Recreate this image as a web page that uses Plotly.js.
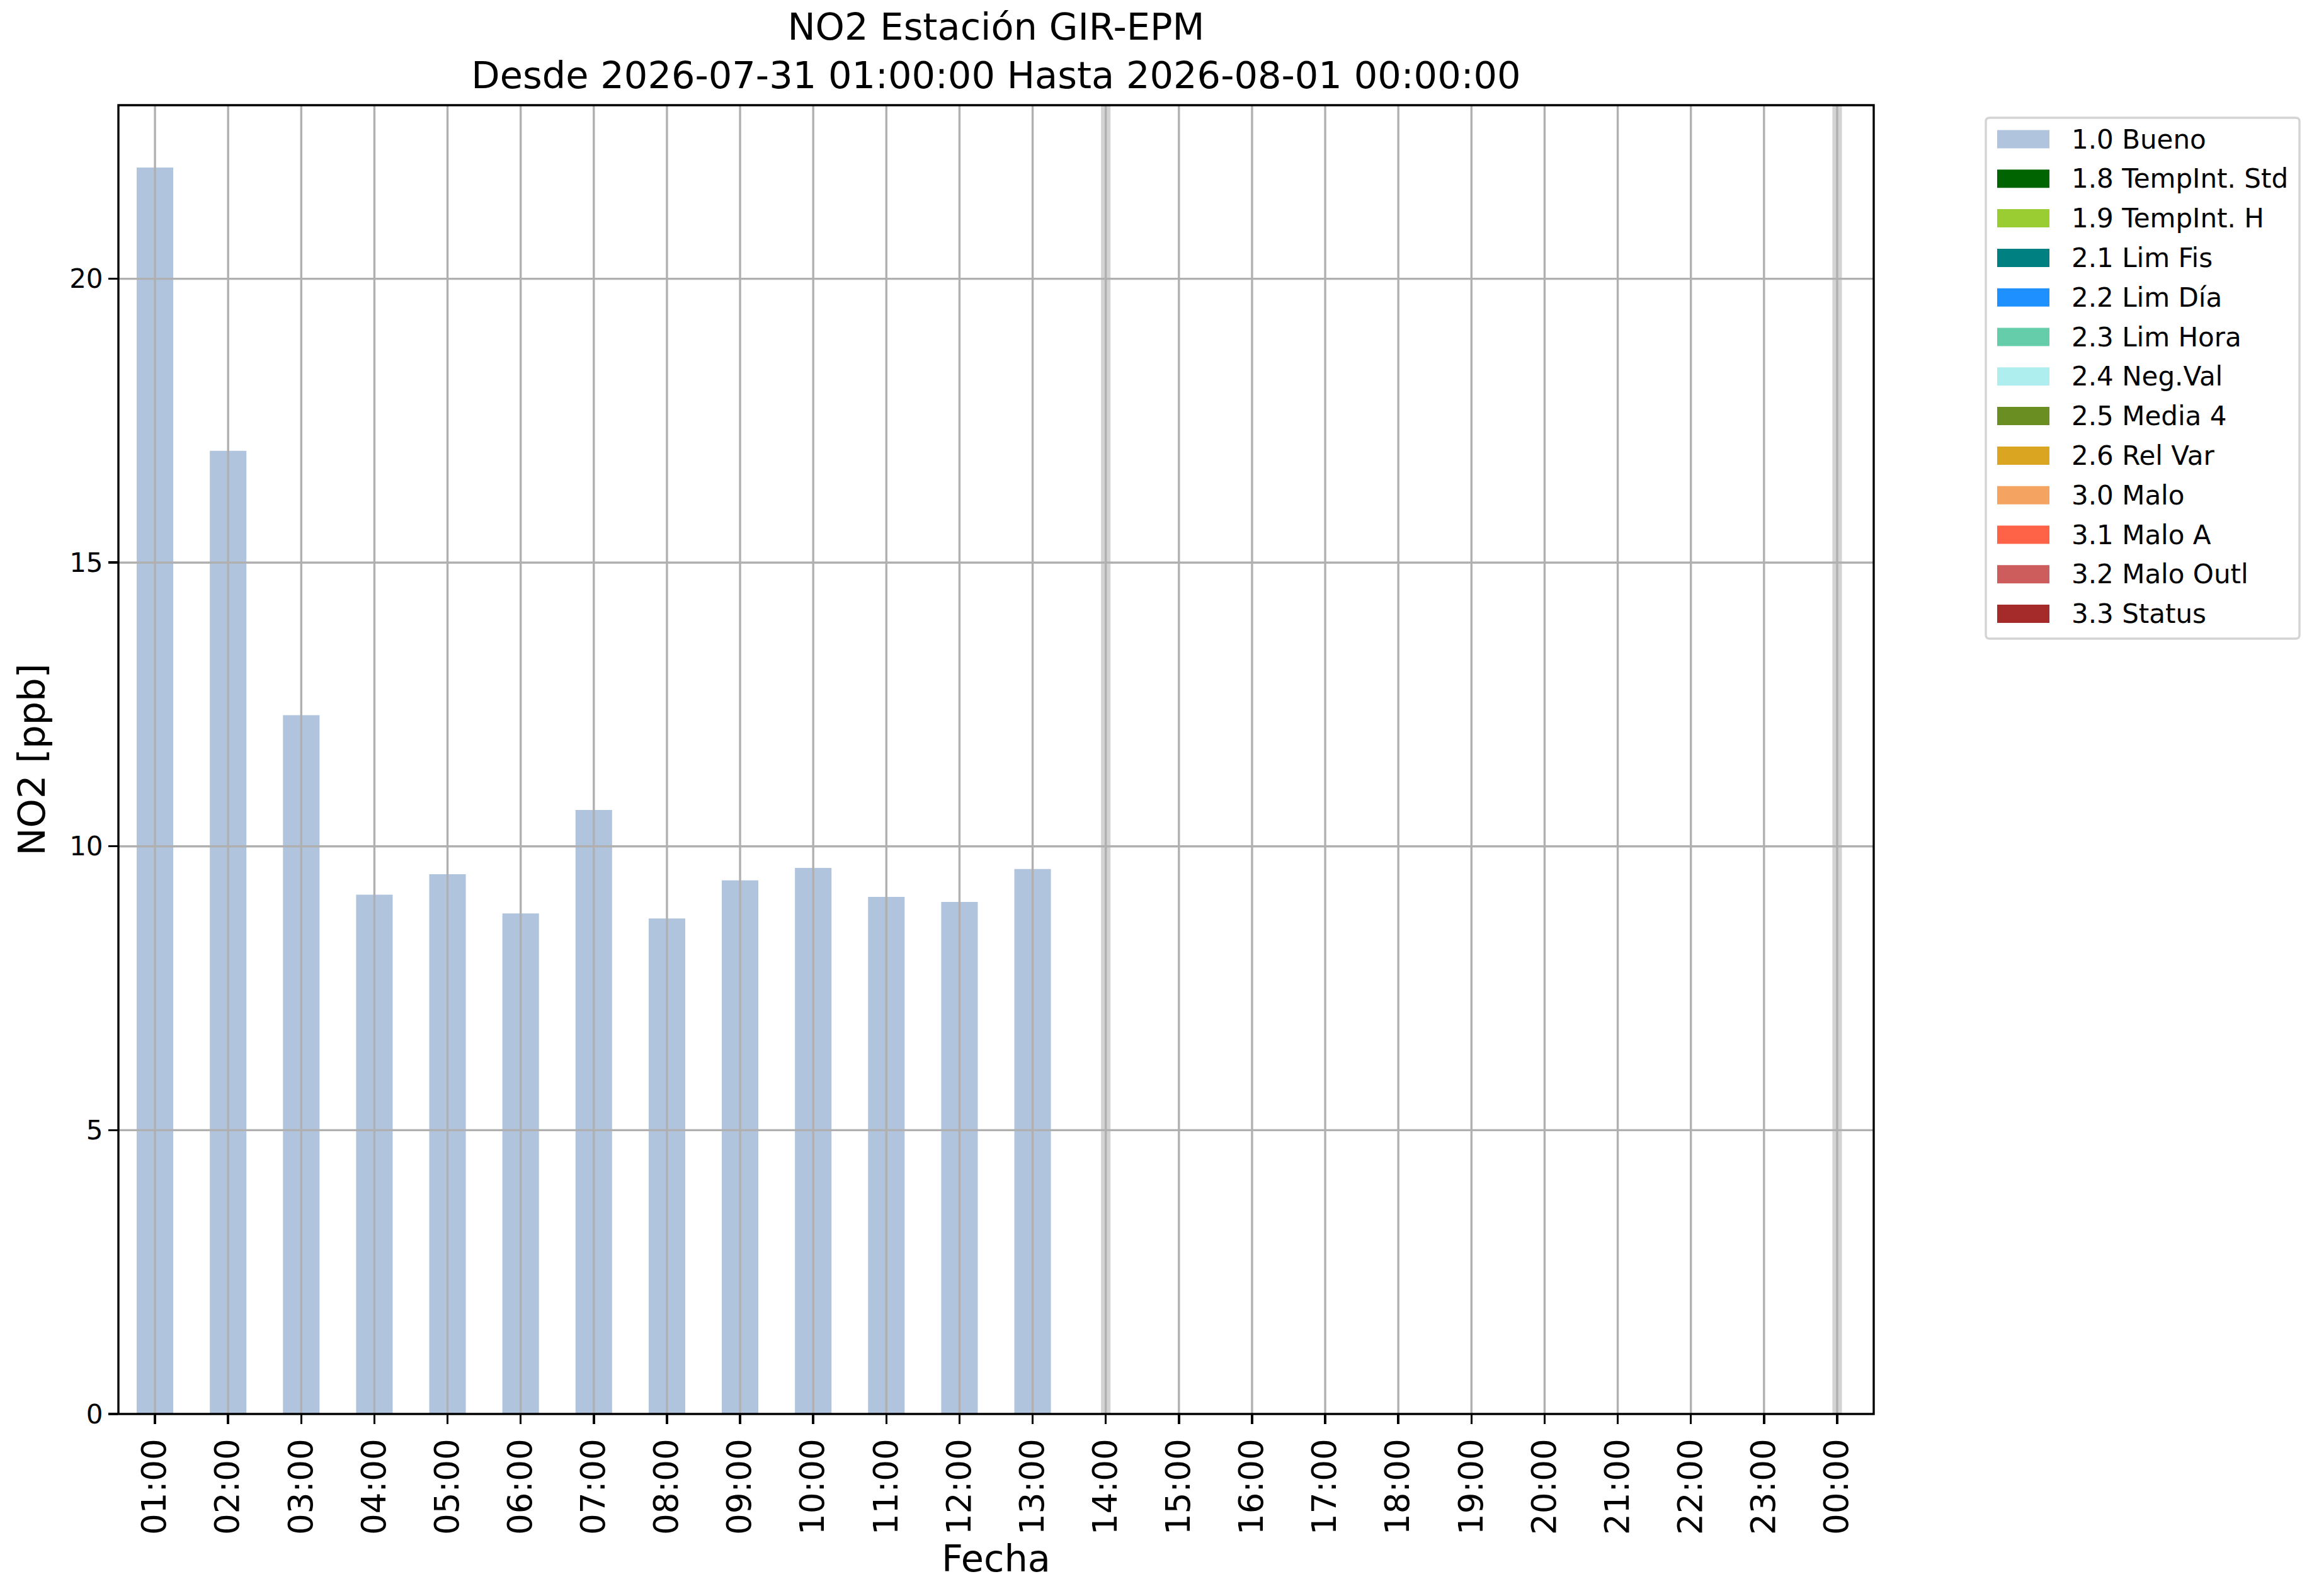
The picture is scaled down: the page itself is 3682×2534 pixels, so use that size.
<!DOCTYPE html>
<html>
<head>
<meta charset="utf-8">
<script src="https://cdn.plot.ly/plotly-3.0.1.min.js"></script>
<style>
  html, body { margin: 0; padding: 0; background: white; }
  #chart { width: 3682px; height: 2534px; }
</style>
</head>
<body>
<div id="chart"></div>
<script>
// Hours shown on the x axis (31 Jul 01:00 to 1 Aug 00:00)
const hours = ['01:00', '02:00', '03:00', '04:00', '05:00', '06:00', '07:00', '08:00',
               '09:00', '10:00', '11:00', '12:00', '13:00', '14:00', '15:00', '16:00',
               '17:00', '18:00', '19:00', '20:00', '21:00', '22:00', '23:00', '00:00'];

// NO2 [ppb], flag 1.0 Bueno; no data after 13:00
const no2Values = [21.96, 16.97, 12.31, 9.15, 9.51, 8.82, 10.64, 8.73, 9.40, 9.62, 9.11, 9.02, 9.60,
                   null, null, null, null, null, null, null, null, null, null, null];

// Hours marked with a gray band
const markedHours = ['14:00', '00:00'];

const yTicks = [0, 5, 10, 15, 20];

// Flag legend
const flagLabels = ['1.0 Bueno', '1.8 TempInt. Std', '1.9 TempInt. H', '2.1 Lim Fis', '2.2 Lim Día',
                    '2.3 Lim Hora', '2.4 Neg.Val', '2.5 Media 4', '2.6 Rel Var', '3.0 Malo',
                    '3.1 Malo A', '3.2 Malo Outl', '3.3 Status'];
const flagColors = ['#b0c4de', '#006400', '#9acd32', '#008080', '#1e90ff', '#66cdaa', '#afeeee',
                    '#6b8e23', '#daa520', '#f4a460', '#ff6347', '#cd5c5c', '#a52a2a'];

const FONT = 'DejaVu Sans, Verdana, sans-serif';
const W = 3682, H = 2534;
const M = { l: 188, r: 707, t: 167, b: 289 };
const plotW = W - M.l - M.r;
const plotH = H - M.t - M.b;
const GRID = '#b0b0b0';
const LW = 3.4;

// pixel position -> paper coords
const px = x => (x - M.l) / plotW;
const py = y => (H - M.b - y) / plotH;

const yMax = Math.max(...no2Values.filter(v => v !== null)) * 1.05;

const trace = {
    type: 'bar',
    x: hours,
    y: no2Values,
    width: 0.5,
    marker: { color: flagColors[0], line: { width: 0 } },
    name: flagLabels[0],
    showlegend: false,
    hoverinfo: 'x+y'
};

const shapes = [];

// gray bands
markedHours.forEach(h => {
    const i = hours.indexOf(h);
    shapes.push({
        type: 'rect', layer: 'above',
        xref: 'x', yref: 'paper',
        x0: i - 0.065, x1: i + 0.065, y0: 0, y1: 1,
        fillcolor: '#d3d3d3', line: { width: 0 }
    });
});

// grid drawn above the bars, like matplotlib
hours.forEach(h => {
    shapes.push({
        type: 'line', layer: 'above',
        xref: 'x', yref: 'paper',
        x0: h, x1: h, y0: 0, y1: 1,
        line: { color: GRID, width: LW }
    });
});
yTicks.filter(v => v > 0).forEach(v => {
    shapes.push({
        type: 'line', layer: 'above',
        xref: 'paper', yref: 'y',
        x0: 0, x1: 1, y0: v, y1: v,
        line: { color: GRID, width: LW }
    });
});

// axes frame
shapes.push({
    type: 'rect', layer: 'above',
    xref: 'paper', yref: 'paper',
    x0: 0, x1: 1, y0: 0, y1: 1,
    line: { color: 'black', width: LW }
});

// legend box (rounded) built by hand so the swatches match
function roundRect(x0, y0, x1, y1, r) {
    const rx = r / plotW, ry = r / plotH;
    const a = px(x0), b = px(x1), top = py(y0), bot = py(y1);
    return `M${a + rx},${top} L${b - rx},${top} Q${b},${top} ${b},${top - ry} ` +
           `L${b},${bot + ry} Q${b},${bot} ${b - rx},${bot} ` +
           `L${a + rx},${bot} Q${a},${bot} ${a},${bot + ry} ` +
           `L${a},${top - ry} Q${a},${top} ${a + rx},${top} Z`;
}
const LEG = { left: 3153, right: 3651, top: 187, bottom: 1014, row0: 221, step: 62.8,
              swL: 3171, swR: 3254, swH: 29, textX: 3287 };
shapes.push({
    type: 'path', layer: 'above', xref: 'paper', yref: 'paper',
    path: roundRect(LEG.left, LEG.top, LEG.right, LEG.bottom, 6),
    fillcolor: 'white', line: { color: '#d4d4d4', width: LW }
});

const annotations = [];
flagLabels.forEach((lab, i) => {
    const yc = LEG.row0 + i * LEG.step;
    shapes.push({
        type: 'rect', layer: 'above', xref: 'paper', yref: 'paper',
        x0: px(LEG.swL), x1: px(LEG.swR),
        y0: py(yc + LEG.swH / 2), y1: py(yc - LEG.swH / 2),
        fillcolor: flagColors[i], line: { width: 0 }
    });
    annotations.push({
        xref: 'paper', yref: 'paper',
        x: px(LEG.textX), y: py(yc),
        xanchor: 'left', yanchor: 'middle',
        text: lab, showarrow: false,
        font: { family: FONT, size: 42, color: 'black' }
    });
});

// x axis label, placed like matplotlib's
annotations.push({
    xref: 'paper', yref: 'paper',
    x: 0.5, y: py(2474),
    xanchor: 'center', yanchor: 'middle',
    text: 'Fecha', showarrow: false,
    font: { family: FONT, size: 59, color: 'black' }
});

const layout = {
    width: W,
    height: H,
    margin: M,
    paper_bgcolor: 'white',
    plot_bgcolor: 'white',
    showlegend: false,
    bargap: 0.5,
    title: {
        text: 'NO2 Estación GIR-EPM<br>Desde 2026-07-31 01:00:00 Hasta 2026-08-01 00:00:00',
        font: { family: FONT, size: 59, color: 'black' },
        x: 0.5, xref: 'paper', xanchor: 'center',
        y: 1 - 63 / H, yref: 'container', yanchor: 'top'
    },
    xaxis: {
        type: 'category',
        range: [-0.5, hours.length - 0.5],
        showgrid: false,
        zeroline: false,
        showline: false,
        ticks: 'outside',
        ticklen: 15,
        tickwidth: LW,
        tickcolor: 'black',
        tickangle: -90,
        ticklabelstandoff: 2,
        tickfont: { family: FONT, size: 53, color: 'black' },
        automargin: false
    },
    yaxis: {
        range: [0, yMax],
        tickvals: yTicks,
        showgrid: false,
        zeroline: false,
        showline: false,
        ticks: 'outside',
        ticklen: 15,
        tickwidth: LW,
        tickcolor: 'black',
        tickfont: { family: FONT, size: 42, color: 'black' },
        automargin: false,
        title: {
            text: 'NO2 [ppb]',
            font: { family: FONT, size: 59, color: 'black' },
            standoff: 19
        }
    },
    shapes: shapes,
    annotations: annotations
};

Plotly.newPlot('chart', [trace], layout, { staticPlot: true, displayModeBar: false });
</script>
</body>
</html>
